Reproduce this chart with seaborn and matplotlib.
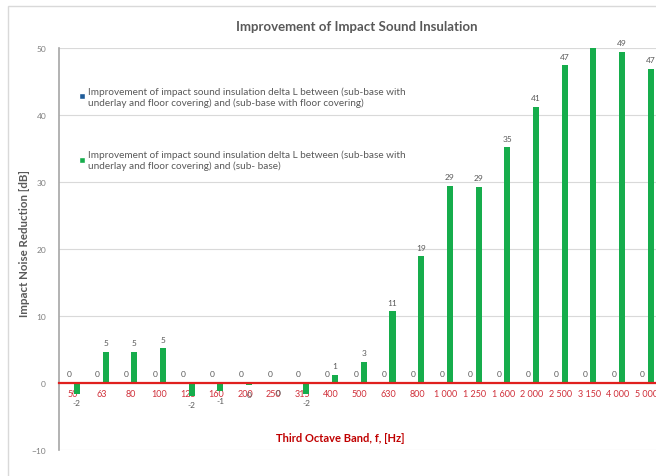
import numpy as np
import pandas as pd
import matplotlib
matplotlib.use('Agg')
from matplotlib import pyplot as plt
from matplotlib.patches import Patch, Rectangle
import seaborn as sns

# third octave bands on the x axis
bands = ['50', '63', '80', '100', '125', '160', '200', '250', '315', '400', '500',
         '630', '800', '1 000', '1 250', '1 600', '2 000', '2 500', '3 150', '4 000', '5 000']

# blue series: delta L (with underlay + covering) vs (with covering) -> all zero
delta_covering = [0, 0, 0, 0, 0, 0, 0, 0, 0, 0, 0,
                  0, 0, 0, 0, 0, 0, 0, 0, 0, 0]
# green series: delta L (with underlay + covering) vs (bare sub-base)
delta_base = [-1.6, 4.7, 4.7, 5.2, -1.9, -1.2, -0.3, -0.1, -1.6, 1.2, 3.2,
              10.7, 18.9, 29.4, 29.3, 35.2, 41.2, 47.4, 50.3, 49.4, 46.9]

label_1 = ('Improvement of impact sound insulation delta L between (sub-base with\n'
           'underlay and floor covering) and (sub-base with floor covering)')
label_2 = ('Improvement of impact sound insulation delta L between (sub-base with\n'
           'underlay and floor covering) and (sub- base)')

df = pd.DataFrame({
    'band': bands * 2,
    'value': delta_covering + delta_base,
    'series': [label_1] * len(bands) + [label_2] * len(bands),
})

sns.set_theme(style='white')
plt.rcParams['font.family'] = ['Lato', 'DejaVu Sans']

blue = '#1F5C99'
green = '#16AD4C'
grey = '#595959'

fig = plt.figure(figsize=(6.56, 4.77), dpi=100)
W, H = 656, 477
# axes runs slightly past the right edge, like the cropped original
ax = fig.add_axes([58.6 / W, 26 / H, 602.4 / W, 402 / H])

sns.barplot(data=df, x='band', y='value', hue='series', order=bands,
            palette=[blue, green], saturation=1, linewidth=0,
            width=0.56, gap=0.25, legend=False, ax=ax)

ax.set_ylim(-10, 50)
ax.set_xlim(-0.5, len(bands) - 0.5)
ax.set_yticks(range(-10, 51, 10))
ax.yaxis.grid(True, color='#D9D9D9', lw=0.8)
ax.xaxis.grid(False)
ax.set_axisbelow(True)

# value labels, skip anything that falls above the plot
for cont, vals in zip(ax.containers, [delta_covering, delta_base]):
    labs = [str(int(round(v))) if v <= 50 else '' for v in vals]
    ax.bar_label(cont, labels=labs, padding=4, fontsize=6, color=grey)

for s in ['top', 'right']:
    ax.spines[s].set_visible(False)
ax.spines['left'].set_color('#A6A6A6')
ax.spines['left'].set_linewidth(1.2)
ax.spines['bottom'].set_position(('data', 0))
ax.spines['bottom'].set_color('#E0201E')
ax.spines['bottom'].set_linewidth(1.6)
ax.spines['bottom'].set_zorder(5)

ax.tick_params(axis='x', length=0, pad=4, labelsize=6.5, colors='#D0303A')
ax.tick_params(axis='y', length=0, pad=9, labelsize=6, colors='#7F7F7F')

ax.set_xlabel('Third Octave Band, f, [Hz]', fontsize=8, fontweight='bold', color='#C00000')
ax.xaxis.set_label_coords(0.467, 0.045)
ax.set_ylabel('Impact Noise Reduction [dB]', fontsize=8.3, fontweight='bold', color=grey)
ax.yaxis.set_label_coords(-0.047, 0.515)

handles = [Patch(facecolor=blue), Patch(facecolor=green)]
ax.legend(handles, [label_1, label_2], loc='upper left',
          bbox_to_anchor=(79 / W, 1 - 87 / H), bbox_transform=fig.transFigure,
          frameon=False, fontsize=7.2, labelcolor=grey, labelspacing=4.3,
          handlelength=0.55, handleheight=0.55, handletextpad=0.4,
          borderpad=0, borderaxespad=0)

fig.text(357 / W, 1 - 27 / H, 'Improvement of Impact Sound Insulation',
         ha='center', va='center', fontsize=9.5, fontweight='bold', color=grey)

# outer chart frame (only top and left edges are inside the picture)
fig.patches.append(Rectangle((8 / W, -0.1), 1.2, 1 - 7 / H + 0.1, transform=fig.transFigure,
                             fill=False, edgecolor='#D9D9D9', lw=1, zorder=0))

fig.savefig('out.png', dpi=100)
